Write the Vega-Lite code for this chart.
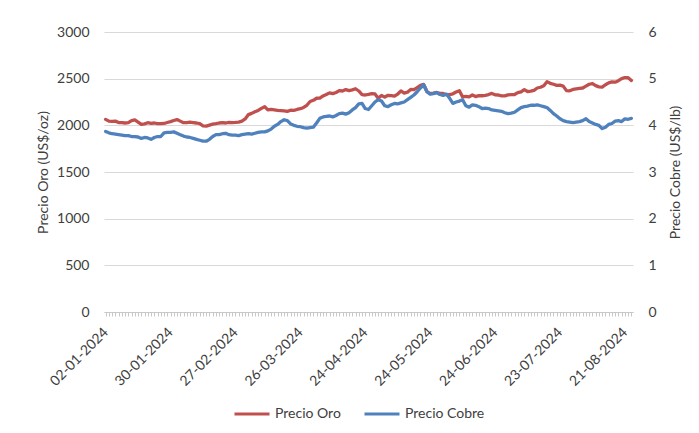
{
  "$schema": "https://vega.github.io/schema/vega-lite/v6.json",
  "width": 529,
  "height": 280,
  "autosize": {"type": "none"},
  "padding": {"left": 104, "top": 32, "right": 66, "bottom": 121},
  "background": "white",
  "config": {
    "font": "Lato",
    "view": {"stroke": null},
    "axis": {"labelFont": "Lato", "labelFontSize": 14, "labelColor": "#404040", "titleFont": "Lato", "titleFontSize": 14, "titleFontWeight": "normal", "titleColor": "#404040"},
    "legend": {"labelFont": "Lato", "labelFontSize": 14, "labelColor": "#404040"}
  },
  "data": {"values": [
    {"fecha":"02-01-2024","oro":2064,"cobre":3.87},
    {"fecha":"03-01-2024","oro":2045,"cobre":3.84},
    {"fecha":"04-01-2024","oro":2043,"cobre":3.82},
    {"fecha":"05-01-2024","oro":2045,"cobre":3.81},
    {"fecha":"08-01-2024","oro":2030,"cobre":3.80},
    {"fecha":"09-01-2024","oro":2030,"cobre":3.79},
    {"fecha":"10-01-2024","oro":2025,"cobre":3.78},
    {"fecha":"11-01-2024","oro":2028,"cobre":3.78},
    {"fecha":"12-01-2024","oro":2050,"cobre":3.76},
    {"fecha":"15-01-2024","oro":2058,"cobre":3.76},
    {"fecha":"16-01-2024","oro":2035,"cobre":3.75},
    {"fecha":"17-01-2024","oro":2010,"cobre":3.72},
    {"fecha":"18-01-2024","oro":2016,"cobre":3.74},
    {"fecha":"19-01-2024","oro":2028,"cobre":3.73},
    {"fecha":"22-01-2024","oro":2022,"cobre":3.70},
    {"fecha":"23-01-2024","oro":2025,"cobre":3.74},
    {"fecha":"24-01-2024","oro":2018,"cobre":3.76},
    {"fecha":"25-01-2024","oro":2018,"cobre":3.76},
    {"fecha":"26-01-2024","oro":2020,"cobre":3.84},
    {"fecha":"29-01-2024","oro":2030,"cobre":3.85},
    {"fecha":"30-01-2024","oro":2040,"cobre":3.85},
    {"fecha":"31-01-2024","oro":2052,"cobre":3.86},
    {"fecha":"01-02-2024","oro":2062,"cobre":3.83},
    {"fecha":"02-02-2024","oro":2045,"cobre":3.80},
    {"fecha":"05-02-2024","oro":2028,"cobre":3.77},
    {"fecha":"06-02-2024","oro":2030,"cobre":3.75},
    {"fecha":"07-02-2024","oro":2035,"cobre":3.74},
    {"fecha":"08-02-2024","oro":2030,"cobre":3.72},
    {"fecha":"09-02-2024","oro":2025,"cobre":3.70},
    {"fecha":"12-02-2024","oro":2018,"cobre":3.68},
    {"fecha":"13-02-2024","oro":1995,"cobre":3.66},
    {"fecha":"14-02-2024","oro":1992,"cobre":3.66},
    {"fecha":"15-02-2024","oro":2003,"cobre":3.70},
    {"fecha":"16-02-2024","oro":2013,"cobre":3.76},
    {"fecha":"19-02-2024","oro":2018,"cobre":3.80},
    {"fecha":"20-02-2024","oro":2025,"cobre":3.80},
    {"fecha":"21-02-2024","oro":2028,"cobre":3.82},
    {"fecha":"22-02-2024","oro":2025,"cobre":3.83},
    {"fecha":"23-02-2024","oro":2032,"cobre":3.80},
    {"fecha":"26-02-2024","oro":2030,"cobre":3.79},
    {"fecha":"27-02-2024","oro":2032,"cobre":3.79},
    {"fecha":"28-02-2024","oro":2035,"cobre":3.78},
    {"fecha":"29-02-2024","oro":2045,"cobre":3.80},
    {"fecha":"01-03-2024","oro":2068,"cobre":3.81},
    {"fecha":"04-03-2024","oro":2115,"cobre":3.82},
    {"fecha":"05-03-2024","oro":2128,"cobre":3.81},
    {"fecha":"06-03-2024","oro":2145,"cobre":3.83},
    {"fecha":"07-03-2024","oro":2160,"cobre":3.85},
    {"fecha":"08-03-2024","oro":2182,"cobre":3.86},
    {"fecha":"11-03-2024","oro":2200,"cobre":3.86},
    {"fecha":"12-03-2024","oro":2165,"cobre":3.88},
    {"fecha":"13-03-2024","oro":2172,"cobre":3.92},
    {"fecha":"14-03-2024","oro":2166,"cobre":3.98},
    {"fecha":"15-03-2024","oro":2160,"cobre":4.02},
    {"fecha":"18-03-2024","oro":2158,"cobre":4.08},
    {"fecha":"19-03-2024","oro":2155,"cobre":4.12},
    {"fecha":"20-03-2024","oro":2150,"cobre":4.10},
    {"fecha":"21-03-2024","oro":2162,"cobre":4.03},
    {"fecha":"22-03-2024","oro":2160,"cobre":4.00},
    {"fecha":"25-03-2024","oro":2170,"cobre":3.98},
    {"fecha":"26-03-2024","oro":2178,"cobre":3.97},
    {"fecha":"27-03-2024","oro":2192,"cobre":3.95},
    {"fecha":"28-03-2024","oro":2215,"cobre":3.94},
    {"fecha":"01-04-2024","oro":2255,"cobre":3.95},
    {"fecha":"02-04-2024","oro":2268,"cobre":3.96},
    {"fecha":"03-04-2024","oro":2290,"cobre":4.05},
    {"fecha":"04-04-2024","oro":2292,"cobre":4.15},
    {"fecha":"05-04-2024","oro":2315,"cobre":4.18},
    {"fecha":"08-04-2024","oro":2330,"cobre":4.19},
    {"fecha":"09-04-2024","oro":2348,"cobre":4.20},
    {"fecha":"10-04-2024","oro":2340,"cobre":4.18},
    {"fecha":"11-04-2024","oro":2352,"cobre":4.21},
    {"fecha":"12-04-2024","oro":2372,"cobre":4.25},
    {"fecha":"15-04-2024","oro":2368,"cobre":4.26},
    {"fecha":"16-04-2024","oro":2383,"cobre":4.24},
    {"fecha":"17-04-2024","oro":2372,"cobre":4.27},
    {"fecha":"18-04-2024","oro":2380,"cobre":4.33},
    {"fecha":"19-04-2024","oro":2392,"cobre":4.38},
    {"fecha":"22-04-2024","oro":2368,"cobre":4.46},
    {"fecha":"23-04-2024","oro":2330,"cobre":4.47},
    {"fecha":"24-04-2024","oro":2325,"cobre":4.36},
    {"fecha":"25-04-2024","oro":2332,"cobre":4.34},
    {"fecha":"26-04-2024","oro":2340,"cobre":4.42},
    {"fecha":"29-04-2024","oro":2336,"cobre":4.50},
    {"fecha":"30-04-2024","oro":2290,"cobre":4.55},
    {"fecha":"02-05-2024","oro":2320,"cobre":4.52},
    {"fecha":"03-05-2024","oro":2302,"cobre":4.42},
    {"fecha":"06-05-2024","oro":2322,"cobre":4.40},
    {"fecha":"07-05-2024","oro":2318,"cobre":4.44},
    {"fecha":"08-05-2024","oro":2312,"cobre":4.47},
    {"fecha":"09-05-2024","oro":2335,"cobre":4.46},
    {"fecha":"10-05-2024","oro":2368,"cobre":4.48},
    {"fecha":"13-05-2024","oro":2345,"cobre":4.50},
    {"fecha":"14-05-2024","oro":2355,"cobre":4.55},
    {"fecha":"15-05-2024","oro":2385,"cobre":4.60},
    {"fecha":"16-05-2024","oro":2382,"cobre":4.65},
    {"fecha":"17-05-2024","oro":2405,"cobre":4.72},
    {"fecha":"20-05-2024","oro":2428,"cobre":4.80},
    {"fecha":"22-05-2024","oro":2438,"cobre":4.87},
    {"fecha":"23-05-2024","oro":2362,"cobre":4.72},
    {"fecha":"24-05-2024","oro":2340,"cobre":4.67},
    {"fecha":"27-05-2024","oro":2345,"cobre":4.68},
    {"fecha":"28-05-2024","oro":2352,"cobre":4.70},
    {"fecha":"29-05-2024","oro":2342,"cobre":4.66},
    {"fecha":"30-05-2024","oro":2342,"cobre":4.64},
    {"fecha":"31-05-2024","oro":2328,"cobre":4.67},
    {"fecha":"03-06-2024","oro":2330,"cobre":4.58},
    {"fecha":"04-06-2024","oro":2338,"cobre":4.47},
    {"fecha":"05-06-2024","oro":2357,"cobre":4.50},
    {"fecha":"06-06-2024","oro":2370,"cobre":4.52},
    {"fecha":"07-06-2024","oro":2305,"cobre":4.55},
    {"fecha":"10-06-2024","oro":2310,"cobre":4.42},
    {"fecha":"11-06-2024","oro":2305,"cobre":4.39},
    {"fecha":"12-06-2024","oro":2325,"cobre":4.44},
    {"fecha":"13-06-2024","oro":2308,"cobre":4.43},
    {"fecha":"14-06-2024","oro":2318,"cobre":4.40},
    {"fecha":"17-06-2024","oro":2317,"cobre":4.36},
    {"fecha":"18-06-2024","oro":2322,"cobre":4.37},
    {"fecha":"19-06-2024","oro":2330,"cobre":4.36},
    {"fecha":"21-06-2024","oro":2342,"cobre":4.33},
    {"fecha":"24-06-2024","oro":2327,"cobre":4.32},
    {"fecha":"25-06-2024","oro":2325,"cobre":4.31},
    {"fecha":"26-06-2024","oro":2315,"cobre":4.30},
    {"fecha":"27-06-2024","oro":2316,"cobre":4.27},
    {"fecha":"28-06-2024","oro":2327,"cobre":4.25},
    {"fecha":"01-07-2024","oro":2330,"cobre":4.26},
    {"fecha":"02-07-2024","oro":2330,"cobre":4.28},
    {"fecha":"03-07-2024","oro":2350,"cobre":4.33},
    {"fecha":"04-07-2024","oro":2358,"cobre":4.38},
    {"fecha":"05-07-2024","oro":2382,"cobre":4.40},
    {"fecha":"08-07-2024","oro":2362,"cobre":4.41},
    {"fecha":"09-07-2024","oro":2366,"cobre":4.43},
    {"fecha":"10-07-2024","oro":2375,"cobre":4.43},
    {"fecha":"11-07-2024","oro":2400,"cobre":4.44},
    {"fecha":"12-07-2024","oro":2408,"cobre":4.42},
    {"fecha":"15-07-2024","oro":2424,"cobre":4.40},
    {"fecha":"17-07-2024","oro":2468,"cobre":4.38},
    {"fecha":"18-07-2024","oro":2450,"cobre":4.32},
    {"fecha":"19-07-2024","oro":2440,"cobre":4.25},
    {"fecha":"22-07-2024","oro":2428,"cobre":4.20},
    {"fecha":"23-07-2024","oro":2430,"cobre":4.14},
    {"fecha":"24-07-2024","oro":2420,"cobre":4.10},
    {"fecha":"25-07-2024","oro":2372,"cobre":4.08},
    {"fecha":"26-07-2024","oro":2370,"cobre":4.07},
    {"fecha":"29-07-2024","oro":2385,"cobre":4.06},
    {"fecha":"30-07-2024","oro":2390,"cobre":4.07},
    {"fecha":"31-07-2024","oro":2395,"cobre":4.08},
    {"fecha":"01-08-2024","oro":2400,"cobre":4.10},
    {"fecha":"02-08-2024","oro":2420,"cobre":4.14},
    {"fecha":"05-08-2024","oro":2440,"cobre":4.08},
    {"fecha":"06-08-2024","oro":2448,"cobre":4.05},
    {"fecha":"07-08-2024","oro":2425,"cobre":4.02},
    {"fecha":"08-08-2024","oro":2412,"cobre":4.00},
    {"fecha":"09-08-2024","oro":2410,"cobre":3.93},
    {"fecha":"12-08-2024","oro":2435,"cobre":3.96},
    {"fecha":"13-08-2024","oro":2455,"cobre":4.02},
    {"fecha":"14-08-2024","oro":2465,"cobre":4.04},
    {"fecha":"16-08-2024","oro":2462,"cobre":4.09},
    {"fecha":"19-08-2024","oro":2478,"cobre":4.10},
    {"fecha":"20-08-2024","oro":2500,"cobre":4.08},
    {"fecha":"21-08-2024","oro":2512,"cobre":4.14},
    {"fecha":"22-08-2024","oro":2510,"cobre":4.13},
    {"fecha":"23-08-2024","oro":2480,"cobre":4.15}
  ]},
  "encoding": {
    "x": {
      "field": "fecha", "type": "ordinal", "sort": null,
      "scale": {"type": "point", "padding": 0.5},
      "axis": {
        "title": null,
        "labelAngle": -45, "labelAlign": "right", "labelBaseline": "middle",
        "labelExpr": "indexof(['02-01-2024','30-01-2024','27-02-2024','26-03-2024','24-04-2024','24-05-2024','24-06-2024','23-07-2024','21-08-2024'], datum.value) >= 0 ? datum.value : ''",
        "labelOverlap": false, "labelPadding": 14, "labelFontSize": 14,
        "ticks": true, "tickSize": 4, "tickColor": "#C8C8C8", "tickWidth": 1,
        "domainColor": "#C8C8C8", "domainWidth": 1, "grid": false
      }
    }
  },
  "layer": [
    {
      "mark": {"type": "line", "strokeWidth": 3.3, "strokeJoin": "round", "strokeCap": "round"},
      "encoding": {
        "y": {
          "field": "oro", "type": "quantitative",
          "scale": {"domain": [0, 3000], "nice": false, "zero": true},
          "axis": {
            "title": "Precio Oro (US$/oz)", "values": [0, 500, 1000, 1500, 2000, 2500, 3000], "format": "d",
            "grid": true, "gridColor": "#D9D9D9", "gridWidth": 1,
            "domain": false, "ticks": false, "tickSize": 0, "labelPadding": 15, "titlePadding": 6
          }
        },
        "color": {
          "datum": "Precio Oro", "type": "nominal",
          "scale": {"domain": ["Precio Oro", "Precio Cobre"], "range": ["#C0504D", "#4F81BD"]},
          "legend": {
            "title": null, "orient": "none", "direction": "horizontal",
            "legendX": 129, "legendY": 363, "padding": 0,
            "symbolType": "stroke", "symbolSize": 1225, "symbolStrokeWidth": 3,
            "labelOffset": 4, "columnPadding": 17
          }
        }
      }
    },
    {
      "mark": {"type": "line", "strokeWidth": 3.3, "strokeJoin": "round", "strokeCap": "round"},
      "encoding": {
        "y": {
          "field": "cobre", "type": "quantitative",
          "scale": {"domain": [0, 6], "nice": false, "zero": true},
          "axis": {
            "orient": "right", "title": "Precio Cobre (US$/lb)", "values": [0, 1, 2, 3, 4, 5, 6], "format": "d",
            "grid": false, "domain": false, "ticks": false, "tickSize": 0, "labelPadding": 15,
            "titleAngle": -90, "titleBaseline": "top", "titlePadding": 12
          }
        },
        "color": {"datum": "Precio Cobre", "type": "nominal"}
      }
    }
  ],
  "resolve": {"scale": {"y": "independent"}}
}
